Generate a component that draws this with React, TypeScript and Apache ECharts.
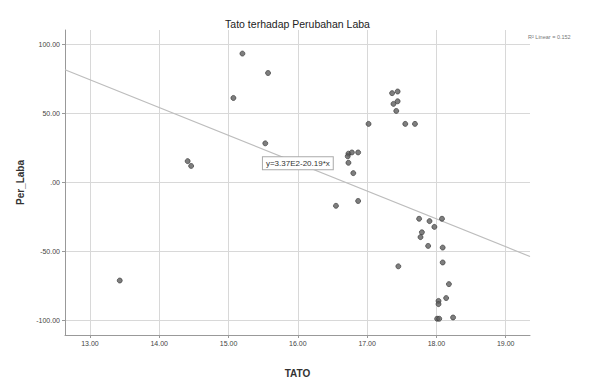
import React, { useEffect, useRef } from "react";
import * as echarts from "echarts";

const title = "Tato terhadap Perubahan Laba";
const xName = "TATO";
const yName = "Per_Laba";
const xTicks = [13, 14, 15, 16, 17, 18, 19];
const yTicks = [-100, -50, 0, 50, 100];
const xRange = [12.64, 19.35];
const yRange = [-110.6, 110.6];
const intercept = 337;
const slope = -20.19;
const fitLabel = "y=3.37E2-20.19*x";
const r2Label = "R² Linear = 0.152";

const tato = [
  13.43, 14.41, 14.46, 15.2, 15.57, 15.07, 15.53,
  17.36, 17.44, 17.38, 17.44, 17.42, 17.02, 17.55, 17.69,
  16.73, 16.78, 16.87, 16.72, 16.73, 16.8, 16.55, 16.87,
  17.75, 17.9, 18.08, 17.97, 17.79, 17.77, 17.88, 18.09,
  17.45, 18.09, 18.18, 18.03, 18.03, 18.14, 18.01, 18.04, 18.24,
];
const perLaba = [
  -71.1, 15.5, 12.0, 93.5, 79.4, 61.3, 28.4,
  64.8, 66.0, 57.0, 58.9, 51.9, 42.5, 42.5, 42.5,
  20.9, 21.8, 21.8, 19.0, 14.3, 6.8, -16.9, -13.4,
  -26.3, -28.0, -26.3, -32.2, -36.1, -39.6, -46.0, -47.2,
  -60.8, -58.0, -73.7, -85.9, -88.2, -83.8, -98.8, -98.8, -97.9,
];

const fmt = (v: number) => {
  const s = Math.abs(v).toFixed(2).replace(/^0\./, ".");
  return (v < 0 ? "-" : "") + s;
};

export default function App() {
  const ref = useRef<HTMLDivElement>(null);
  useEffect(() => {
    if (!ref.current) return;
    const chart = echarts.init(ref.current, null, { renderer: "svg" });
    const fitX = 16;
    chart.setOption({
      animation: false,
      backgroundColor: "#ffffff",
      textStyle: { fontFamily: "Liberation Sans, Arial, sans-serif" },
      title: {
        text: title,
        left: "center",
        top: 13,
        itemGap: 0,
        textStyle: { fontSize: 10.5, fontWeight: "normal", color: "#222" },
      },
      grid: { left: 65, right: 65, top: 30, bottom: 39, containLabel: false },
      xAxis: {
        type: "value",
        min: xRange[0],
        max: xRange[1],
        name: xName,
        nameLocation: "middle",
        nameGap: 33,
        nameTextStyle: { fontSize: 10, fontWeight: "bold", color: "#333" },
        axisLine: { show: true, onZero: false, lineStyle: { color: "#999", width: 1 } },
        axisTick: { show: true, customValues: xTicks, length: 3, lineStyle: { color: "#999" } },
        axisLabel: { customValues: xTicks, formatter: fmt, fontSize: 7, color: "#444", margin: 5 },
        splitLine: { show: true, lineStyle: { color: "#d8d8d8", width: 1 } },
      },
      yAxis: {
        type: "value",
        min: yRange[0],
        max: yRange[1],
        name: yName,
        nameLocation: "middle",
        nameGap: 40,
        nameRotate: 90,
        nameTextStyle: { fontSize: 10, fontWeight: "bold", color: "#333" },
        axisLine: { show: true, onZero: false, lineStyle: { color: "#999", width: 1 } },
        axisTick: { show: true, customValues: yTicks, length: 3, lineStyle: { color: "#999" } },
        axisLabel: { customValues: yTicks, formatter: fmt, fontSize: 7, color: "#444", margin: 5 },
        splitLine: { show: true, lineStyle: { color: "#d8d8d8", width: 1 } },
      },
      series: [
        {
          type: "line",
          data: xRange.map((x) => [x, intercept + slope * x]),
          symbol: "none",
          lineStyle: { color: "#bdbdbd", width: 1.2 },
          silent: true,
          z: 2,
          markPoint: {
            symbol: "rect",
            symbolSize: 0,
            data: [{ coord: [fitX, intercept + slope * fitX], value: fitLabel }],
            label: {
              show: true,
              position: "inside",
              formatter: fitLabel,
              fontSize: 8,
              color: "#333",
              backgroundColor: "#fff",
              borderColor: "#aaa",
              borderWidth: 1,
              padding: [2, 3],
            },
          },
        },
        {
          type: "scatter",
          data: tato.map((x, i) => [x, perLaba[i]]),
          symbolSize: 5,
          itemStyle: { color: "#5e5e5e", borderColor: "#333", borderWidth: 0.8 },
          z: 3,
        },
      ],
      graphic: [
        {
          type: "text",
          left: 528,
          top: 34,
          style: { text: r2Label, fontSize: 5.5, fill: "#777", fontFamily: "Liberation Sans, Arial, sans-serif" },
        },
      ],
    });
    return () => chart.dispose();
  }, []);
  return (
    <div
      ref={ref}
      style={{ position: "fixed", left: 0, top: 0, width: 595, height: 383 }}
    />
  );
}
